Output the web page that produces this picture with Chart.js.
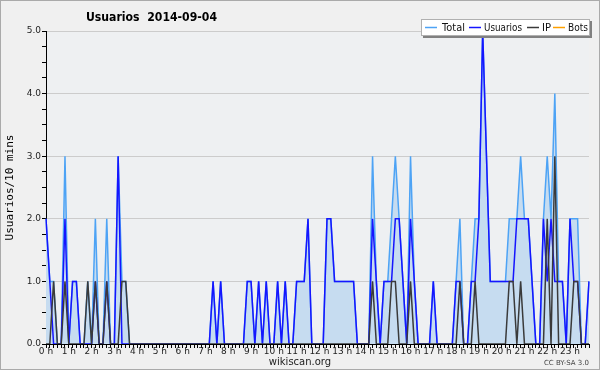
<!DOCTYPE html>
<html>
<head>
<meta charset="utf-8">
<script src="https://cdn.jsdelivr.net/npm/chart.js@4.4.0/dist/chart.umd.min.js"></script>
<style>
  html, body { margin: 0; padding: 0; background: #f0f0f0; }
  #wrap { width: 600px; height: 370px; }
</style>
</head>
<body>
<div id="wrap"><canvas id="myChart" width="600" height="370"></canvas></div>
<script>
const hourLabels = ['0 h', '1 h', '2 h', '3 h', '4 h', '5 h', '6 h', '7 h', '8 h', '9 h', '10 h', '11 h',
  '12 h', '13 h', '14 h', '15 h', '16 h', '17 h', '18 h', '19 h', '20 h', '21 h', '22 h', '23 h'];
const minuteLabels = ['00', '10', '20', '30', '40', '50'];

// one slot every 10 minutes
const slots = [];
for (let h = 0; h < 24; h++) {
  for (let m = 0; m < minuteLabels.length; m++) {
    slots.push(h + ':' + minuteLabels[m]);
  }
}

const total = [
  2,1,1,0,0,3,0,1,1,0,0,1,0,2,0,0,2,0,0,3,1,1,0,0,
  0,0,0,0,0,0,0,0,0,0,0,0,0,0,0,0,0,0,0,0,1,0,1,0,
  0,0,0,0,0,1,1,0,1,0,1,0,0,1,0,1,0,0,1,1,1,2,0,0,
  0,0,2,2,1,1,1,1,1,1,0,0,0,0,3,1,0,1,1,2,3,2,1,0,
  3,1,0,0,0,0,1,0,0,0,0,0,1,2,0,0,1,2,2,5,3,1,1,1,
  1,1,2,2,2,3,2,2,1,0,0,2,3,2,4,1,1,0,2,2,2,0,0,1
];
const usuarios = [
  2,1,0,0,0,2,0,1,1,0,0,0,0,1,0,0,1,0,0,3,0,0,0,0,
  0,0,0,0,0,0,0,0,0,0,0,0,0,0,0,0,0,0,0,0,1,0,1,0,
  0,0,0,0,0,1,1,0,1,0,1,0,0,1,0,1,0,0,1,1,1,2,0,0,
  0,0,2,2,1,1,1,1,1,1,0,0,0,0,2,1,0,1,1,1,2,2,1,0,
  2,1,0,0,0,0,1,0,0,0,0,0,1,1,0,0,1,1,2,5,3,1,1,1,
  1,1,1,1,2,2,2,2,1,0,0,2,1,2,1,1,1,0,2,1,1,0,0,1
];
const ip = [
  0,0,1,0,0,1,0,0,0,0,0,1,0,1,0,0,1,0,0,0,1,1,0,0,
  0,0,0,0,0,0,0,0,0,0,0,0,0,0,0,0,0,0,0,0,0,0,0,0,
  0,0,0,0,0,0,0,0,0,0,0,0,0,0,0,0,0,0,0,0,0,0,0,0,
  0,0,0,0,0,0,0,0,0,0,0,0,0,0,1,0,0,0,0,1,1,0,0,0,
  1,0,0,0,0,0,0,0,0,0,0,0,0,1,0,0,0,1,0,0,0,0,0,0,
  0,0,1,1,0,1,0,0,0,0,0,0,2,0,3,0,0,0,0,1,1,0,0,0
];
const bots = [
  0,0,0,0,0,0,0,0,0,0,0,0,0,0,0,0,0,0,0,0,0,0,0,0,
  0,0,0,0,0,0,0,0,0,0,0,0,0,0,0,0,0,0,0,0,0,0,0,0,
  0,0,0,0,0,0,0,0,0,0,0,0,0,0,0,0,0,0,0,0,0,0,0,0,
  0,0,0,0,0,0,0,0,0,0,0,0,0,0,0,0,0,0,0,0,0,0,0,0,
  0,0,0,0,0,0,0,0,0,0,0,0,0,0,0,0,0,0,0,0,0,0,0,0,
  0,0,0,0,0,0,0,0,0,0,0,0,0,0,0,0,0,0,0,0,0,0,0,0
];

const fontName = "'DejaVu Sans', sans-serif";

// legend item positions (line start, text start, text width)
const legendSlots = [[425, 442, 23], [469, 484, 38], [527, 542, 9], [553, 568, 20]];

// background, title, legend box and footer texts
const decor = {
  id: 'decor',
  beforeDraw(chart) {
    const ctx = chart.ctx;
    const a = chart.chartArea;
    ctx.save();
    ctx.fillStyle = '#f0f0f0';
    ctx.fillRect(0, 0, chart.width, chart.height);
    ctx.fillStyle = '#eef0f2';
    ctx.fillRect(a.left, a.top, a.right - a.left, a.bottom - a.top);
    ctx.restore();
  },
  afterDraw(chart) {
    const ctx = chart.ctx;
    ctx.save();

    ctx.fillStyle = '#000';
    ctx.font = 'bold 13px ' + fontName;
    ctx.textBaseline = 'middle';
    ctx.textAlign = 'left';
    ctx.fillText('Usuarios  2014-09-04', 86, 18, 131);

    // legend
    ctx.fillStyle = '#808080';
    ctx.fillRect(423, 21, 169, 17);
    ctx.fillStyle = '#fff';
    ctx.fillRect(421, 19, 169, 17);
    ctx.strokeStyle = '#b0b0b0';
    ctx.lineWidth = 1;
    ctx.strokeRect(421.5, 19.5, 168, 16);
    ctx.font = '11px ' + fontName;
    chart.data.datasets.forEach((ds, i) => {
      const s = legendSlots[i];
      ctx.strokeStyle = ds.borderColor;
      ctx.lineWidth = 1.5;
      ctx.beginPath();
      ctx.moveTo(s[0], 27.5);
      ctx.lineTo(s[0] + 12, 27.5);
      ctx.stroke();
      ctx.fillStyle = '#111';
      ctx.fillText(ds.label, s[1], 28, s[2]);
    });

    ctx.fillStyle = '#222';
    ctx.font = '10px ' + fontName;
    ctx.textAlign = 'center';
    ctx.fillText('wikiscan.org', 300, 362);
    ctx.font = '7px ' + fontName;
    ctx.textAlign = 'right';
    ctx.fillStyle = '#444';
    ctx.fillText('CC BY-SA 3.0', 589, 363);

    ctx.strokeStyle = '#aaa';
    ctx.lineWidth = 1;
    ctx.strokeRect(0.5, 0.5, chart.width - 1, chart.height - 1);
    ctx.restore();
  }
};

const data = {
  labels: slots,
  datasets: [
    {
      label: 'Total',
      data: total,
      borderColor: '#4da3f5',
      backgroundColor: '#c6dcf0',
      fill: 'origin',
      order: 2
    },
    {
      label: 'Usuarios',
      data: usuarios,
      borderColor: '#1515ff',
      fill: false,
      order: 1
    },
    {
      label: 'IP',
      data: ip,
      borderColor: '#3a3a3a',
      fill: false,
      order: 0
    },
    {
      label: 'Bots',
      data: bots,
      borderColor: '#ffa000',
      fill: false,
      order: 3
    }
  ]
};

const config = {
  type: 'line',
  data: data,
  options: {
    responsive: false,
    animation: false,
    layout: { padding: { left: 0, right: 11, top: 31, bottom: 0 } },
    elements: {
      point: { radius: 0 },
      line: { borderWidth: 1.5, tension: 0 }
    },
    plugins: {
      legend: { display: false },
      title: { display: false },
      tooltip: { enabled: false }
    },
    scales: {
      x: {
        type: 'category',
        offset: false,
        afterFit: s => { s.height = 26; },
        grid: {
          drawOnChartArea: false,
          drawTicks: true,
          tickLength: 4,
          tickColor: '#000'
        },
        border: { color: '#000', width: 1 },
        ticks: {
          autoSkip: false,
          maxRotation: 0,
          padding: -2,
          color: '#222',
          font: { family: fontName, size: 9 },
          callback: (val, i) => (i % 6 === 0 ? hourLabels[i / 6] : '')
        }
      },
      y: {
        min: 0,
        max: 5,
        afterFit: s => { s.width = 46; },
        grid: {
          color: ctx => (ctx.tick && ctx.tick.value % 1 === 0 ? '#cccccc' : 'rgba(0,0,0,0)'),
          tickColor: '#000',
          tickLength: 4
        },
        border: { color: '#000', width: 1 },
        ticks: {
          stepSize: 0.25,
          autoSkip: false,
          padding: 1,
          color: '#222',
          font: { family: fontName, size: 9 },
          callback: v => (v % 1 === 0 ? v.toFixed(1) : '')
        },
        title: {
          display: true,
          text: 'Usuarios/10 mins',
          color: '#000',
          padding: { top: 4, bottom: 0 },
          font: { family: "'DejaVu Sans Mono', monospace", size: 11 }
        }
      }
    }
  },
  plugins: [decor]
};

const myChart = new Chart(document.getElementById('myChart'), config);
</script>
</body>
</html>
